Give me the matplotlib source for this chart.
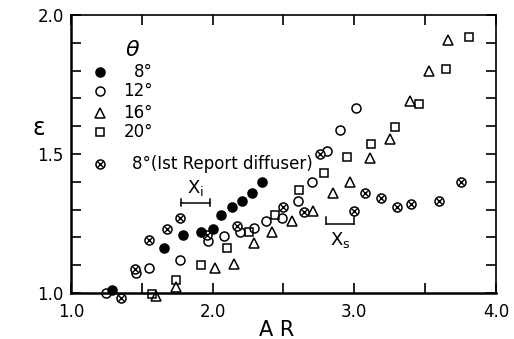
import numpy as np
import matplotlib
matplotlib.use('Agg')
import matplotlib.pyplot as plt

plt.rcParams['font.family'] = ['DejaVu Sans']

# theta = 8 deg (filled)
ar_8 = [1.29, 1.66, 1.79, 1.92, 2.00, 2.06, 2.14, 2.21, 2.28, 2.35]
eps_8 = [1.01, 1.16, 1.21, 1.22, 1.23, 1.28, 1.31, 1.33, 1.36, 1.40]

# theta = 12 deg
ar_12 = [1.25, 1.46, 1.55, 1.77, 1.97, 2.08, 2.19, 2.29, 2.38, 2.49, 2.60, 2.70, 2.81, 2.90, 3.01]
eps_12 = [1.00, 1.07, 1.09, 1.12, 1.185, 1.205, 1.22, 1.235, 1.26, 1.27, 1.33, 1.40, 1.51, 1.585, 1.665]

# theta = 16 deg
ar_16 = [1.60, 1.74, 2.02, 2.15, 2.29, 2.42, 2.56, 2.71, 2.85, 2.97, 3.11, 3.25, 3.39, 3.53, 3.66]
eps_16 = [0.99, 1.02, 1.09, 1.105, 1.18, 1.22, 1.26, 1.295, 1.36, 1.40, 1.485, 1.555, 1.69, 1.80, 1.91]

# theta = 20 deg
ar_20 = [1.57, 1.74, 1.915, 2.10, 2.26, 2.44, 2.61, 2.785, 2.95, 3.115, 3.29, 3.46, 3.65, 3.81]
eps_20 = [0.995, 1.045, 1.10, 1.16, 1.22, 1.28, 1.37, 1.43, 1.49, 1.535, 1.595, 1.68, 1.805, 1.92]

# 8 deg, 1st report diffuser
ar_r1 = [1.35, 1.45, 1.55, 1.675, 1.77, 1.96, 2.17, 2.50, 2.645, 2.76, 3.00, 3.075, 3.19, 3.30, 3.40, 3.60, 3.75]
eps_r1 = [0.98, 1.085, 1.19, 1.23, 1.27, 1.21, 1.24, 1.31, 1.29, 1.50, 1.295, 1.36, 1.34, 1.31, 1.32, 1.33, 1.40]

legend_labels = ['8°', '12°', '16°', '20°']
legend_r1 = '8°(Ist Report diffuser)'

# X_i and X_s brackets
xi_span = [1.78, 1.98]
xi_level = 1.324
xs_span = [2.80, 3.00]
xs_level = 1.248

fig = plt.figure(figsize=(5.14, 3.39), dpi=100)
ax = fig.add_axes([0.138, 0.136, 0.827, 0.82])

ms = 6.5
kw = dict(linestyle='none', clip_on=False, markeredgecolor='black', markeredgewidth=1.1)
xkw = dict(marker='x', markersize=3.8, markeredgewidth=1.0, linestyle='none', color='black', clip_on=False)

ax.plot(ar_12, eps_12, marker='o', markersize=ms, markerfacecolor='white', **kw)
ax.plot(ar_16, eps_16, marker='^', markersize=ms + 0.5, markerfacecolor='none', **kw)
ax.plot(ar_20, eps_20, marker='s', markersize=ms - 0.8, markerfacecolor='none', **kw)
ax.plot(ar_r1, eps_r1, marker='o', markersize=ms, markerfacecolor='white', **kw)
ax.plot(ar_r1, eps_r1, **xkw)
ax.plot(ar_8, eps_8, marker='o', markersize=ms, markerfacecolor='black', **kw)

# brackets
ax.plot(xi_span, [xi_level, xi_level], color='black', lw=1.1)
for x in xi_span:
    ax.plot([x, x], [xi_level - 0.012, xi_level + 0.012], color='black', lw=1.1)
ax.text(np.mean(xi_span), xi_level + 0.018, r'X$_\mathregular{i}$', ha='center', va='bottom', fontsize=13)

ax.plot(xs_span, [xs_level, xs_level], color='black', lw=1.1)
for x in xs_span:
    ax.plot([x, x], [xs_level, xs_level + 0.025], color='black', lw=1.1)
ax.text(np.mean(xs_span), xs_level - 0.02, r'X$_\mathregular{s}$', ha='center', va='top', fontsize=13)

# legend drawn by hand
tr = ax.transAxes
ax.text(0.146, 0.874, r'$\theta$', transform=tr, fontsize=16, ha='center', va='center')
rows = [0.795, 0.727, 0.647, 0.579]
ax.plot(0.068, rows[0], marker='o', markersize=ms, markerfacecolor='black', transform=tr, **kw)
ax.plot(0.068, rows[1], marker='o', markersize=ms, markerfacecolor='white', transform=tr, **kw)
ax.plot(0.068, rows[2], marker='^', markersize=ms + 0.5, markerfacecolor='none', transform=tr, **kw)
ax.plot(0.068, rows[3], marker='s', markersize=ms - 0.8, markerfacecolor='none', transform=tr, **kw)
for y, lab in zip(rows, legend_labels):
    ax.text(0.193, y, lab, transform=tr, fontsize=12, ha='right', va='center')
ax.plot(0.068, 0.464, marker='o', markersize=ms, markerfacecolor='white', transform=tr, **kw)
ax.plot(0.068, 0.464, transform=tr, **xkw)
ax.text(0.143, 0.464, legend_r1, transform=tr, fontsize=12, ha='left', va='center')

ax.set_xlim(1.0, 4.0)
ax.set_ylim(1.0, 2.0)
ax.set_xticks([1.0, 1.5, 2.0, 2.5, 3.0, 3.5, 4.0])
ax.set_xticklabels(['1.0', '', '2.0', '', '3.0', '', '4.0'])
ax.set_yticks(np.arange(1.0, 2.01, 0.1))
ax.set_yticklabels(['1.0', '', '', '', '', '1.5', '', '', '', '', '2.0'])
ax.tick_params(direction='in', length=7, width=1.2, labelsize=12, top=True, right=True, pad=5)
ax.tick_params(axis='x', pad=7)

for side in ['left', 'bottom']:
    ax.spines[side].set_linewidth(1.8)
for side in ['top', 'right']:
    ax.spines[side].set_linewidth(1.2)

ax.text(-0.075, 0.594, 'ε', transform=tr, fontsize=17, ha='center', va='center')
ax.text(0.485, -0.135, 'A R', transform=tr, fontsize=15, ha='center', va='center')

fig.savefig('out.png', dpi=100)
